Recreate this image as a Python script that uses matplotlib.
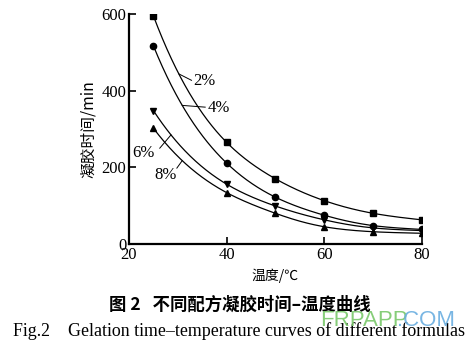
import numpy as np
import matplotlib
matplotlib.use("Agg")
import matplotlib.pyplot as plt

# Gelation time (min) versus temperature (°C) for four accelerator levels
temperature = [25, 40, 50, 60, 70, 80]
series_labels = ["2%", "4%", "6%", "8%"]
time_2pct = [595, 265, 170, 113, 80, 63]
time_4pct = [517, 211, 122, 75, 48, 38]
time_6pct = [348, 156, 99, 63, 42, 35]
time_8pct = [302, 134, 80, 45, 32, 28]
markers = ["s", "o", "v", "^"]

x_ticks = [20, 40, 60, 80]
y_ticks = [0, 200, 400, 600]

SERIF = ["Liberation Serif", "DejaVu Serif"]
CJK = ["Noto Sans CJK SC", "DejaVu Sans"]


def natural_spline(x, y, xs):
    """Natural cubic spline through (x, y), evaluated at xs."""
    x = np.asarray(x, float)
    y = np.asarray(y, float)
    n = len(x)
    h = np.diff(x)
    A = np.zeros((n, n))
    b = np.zeros(n)
    A[0, 0] = A[-1, -1] = 1.0
    for i in range(1, n - 1):
        A[i, i - 1] = h[i - 1]
        A[i, i] = 2 * (h[i - 1] + h[i])
        A[i, i + 1] = h[i]
        b[i] = 3 * ((y[i + 1] - y[i]) / h[i] - (y[i] - y[i - 1]) / h[i - 1])
    c = np.linalg.solve(A, b)
    out = np.empty_like(xs, dtype=float)
    for k, xv in enumerate(xs):
        i = min(max(np.searchsorted(x, xv) - 1, 0), n - 2)
        dx = xv - x[i]
        bi = (y[i + 1] - y[i]) / h[i] - h[i] * (2 * c[i] + c[i + 1]) / 3
        di = (c[i + 1] - c[i]) / (3 * h[i])
        out[k] = y[i] + bi * dx + c[i] * dx ** 2 + di * dx ** 3
    return out


def smooth(x, y, xs):
    # spline in log space keeps the decay shape smooth and positive
    return np.exp(natural_spline(x, np.log(y), xs))


fig = plt.figure(figsize=(4.77, 3.43), dpi=100)
ax = fig.add_axes([129 / 477, 1 - 244 / 343, 293 / 477, 230 / 343])

xs = np.linspace(temperature[0], temperature[-1], 300)
all_series = [time_2pct, time_4pct, time_6pct, time_8pct]
for vals, mk in zip(all_series, markers):
    ax.plot(xs, smooth(temperature, vals, xs), color="black", lw=0.9)
    ax.plot(temperature, vals, linestyle="none", marker=mk, color="black",
            markersize=4.5)

# leader-line labels: (series index, x on curve, text position, alignment)
label_spec = [
    (0, 30.2, (33.2, 425), "left"),
    (1, 30.9, (36.0, 355), "left"),
    (2, 28.6, (23.0, 237), "center"),
    (3, 30.9, (27.4, 180), "center"),
]
leader_end = [(32.8, 427), (35.6, 357), (26.3, 250), (29.8, 198)]
for (idx, xc, tpos, ha), lend in zip(label_spec, leader_end):
    yc = smooth(temperature, all_series[idx], np.array([xc]))[0]
    ax.plot([xc, lend[0]], [yc, lend[1]], color="black", lw=0.7)
    ax.text(tpos[0], tpos[1], series_labels[idx], ha=ha, va="center",
            fontsize=12, family=SERIF)

ax.set_xlim(20, 80)
ax.set_ylim(0, 600)
ax.set_xticks(x_ticks)
ax.set_yticks(y_ticks)
ax.set_xticklabels([str(t) for t in x_ticks], family=SERIF, fontsize=12)
ax.set_yticklabels([str(t) for t in y_ticks], family=SERIF, fontsize=12)
ax.tick_params(direction="in", length=5, width=1.2, pad=2)
for side in ("top", "right"):
    ax.spines[side].set_visible(False)
for side in ("left", "bottom"):
    ax.spines[side].set_linewidth(1.6)

ax.set_xlabel("温度/℃", family=CJK, fontsize=10, labelpad=4)
ax.set_ylabel("凝胶时间/min", family=CJK, fontsize=11.3, labelpad=3)

fig.text(240 / 477, 1 - 305 / 343, "图 2   不同配方凝胶时间–温度曲线",
         family=CJK, fontsize=12.5, fontweight="bold", ha="center", va="center")
fig.text(13 / 477, 1 - 331 / 343,
         "Fig.2    Gelation time–temperature curves of different formulas",
         family=SERIF, fontsize=12.9, ha="left", va="center")

# site watermark
fig.text(320 / 477, 1 - 321 / 343, "FRPAPP", family=["Liberation Sans"],
         fontsize=16, color="#79c86a", alpha=0.9, ha="left", va="center")
fig.text(397 / 477, 1 - 321 / 343, ".COM", family=["Liberation Sans"],
         fontsize=16, color="#6aaee0", alpha=0.9, ha="left", va="center")

fig.savefig("out.png", dpi=100)
